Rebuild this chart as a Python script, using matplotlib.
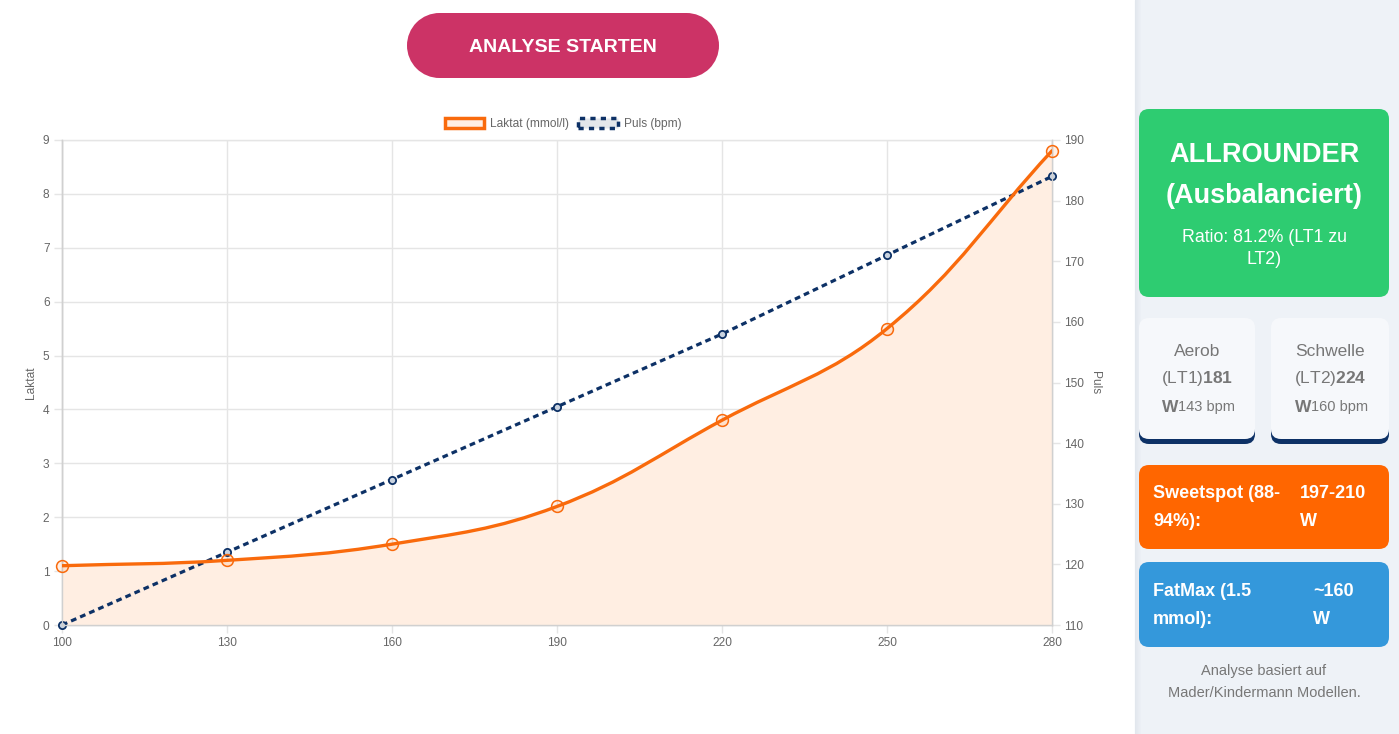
import numpy as np
import matplotlib
matplotlib.use("Agg")
import matplotlib.pyplot as plt
from matplotlib.path import Path
from matplotlib.patches import PathPatch, FancyBboxPatch, Rectangle, Patch, Circle

plt.rcParams['font.family'] = ['Liberation Sans', 'DejaVu Sans']
plt.rcParams['mathtext.fontset'] = 'custom'
plt.rcParams['mathtext.rm'] = 'Liberation Sans'
plt.rcParams['mathtext.bf'] = 'Liberation Sans:bold'

# ---------------- data ----------------
watt = [100, 130, 160, 190, 220, 250, 280]
laktat = [1.1, 1.2, 1.5, 2.2, 3.8, 5.5, 8.8]
puls = [110, 122, 134, 146, 158, 171, 184]
laktat_ticks = list(range(0, 10))
puls_ticks = list(range(110, 191, 10))
legend_labels = ["Laktat (mmol/l)", "Puls (bpm)"]

W, H = 1399, 734
fig = plt.figure(figsize=(W / 100, H / 100), dpi=100)
fig.patch.set_facecolor("white")

# overlay axes in pixel coordinates for page elements
ov = fig.add_axes([0, 0, 1, 1], zorder=0)
ov.set_xlim(0, W)
ov.set_ylim(H, 0)
ov.axis("off")

# right side panel
ov.add_patch(Rectangle((1135, 0), W - 1135, H, color="#eef2f7", zorder=0))
for i in range(6):
    ov.add_patch(Rectangle((1135 + i, 0), 1, H, color="#d8dde5", alpha=0.5 - i * 0.08, lw=0, zorder=0.5))


def card(x0, y0, x1, y1, color, r=10, z=1):
    ov.add_patch(FancyBboxPatch((x0 + r, y0 + r), (x1 - x0) - 2 * r, (y1 - y0) - 2 * r,
                                boxstyle=f"round,pad={r}", fc=color, ec="none", zorder=z))


# pill button
btn_c = "#cc3366"
bx0, bx1, by0, by1 = 407, 719, 13, 78
br = (by1 - by0) / 2
ov.add_patch(Rectangle((bx0 + br, by0), bx1 - bx0 - 2 * br, by1 - by0, fc=btn_c, ec="none", zorder=1))
ov.add_patch(Circle((bx0 + br, by0 + br), br, fc=btn_c, ec="none", zorder=1))
ov.add_patch(Circle((bx1 - br, by0 + br), br, fc=btn_c, ec="none", zorder=1))
ov.text(563, 46, "ANALYSE STARTEN", color="white", fontsize=14, fontweight="bold",
        ha="center", va="center_baseline", zorder=2)

# green card
card(1139, 109, 1389, 297, "#2ecc71")
ov.text(1264, 155, "ALLROUNDER", color="white", fontsize=19.5, fontweight="bold", ha="center", va="center", zorder=2)
ov.text(1264, 196, "(Ausbalanciert)", color="white", fontsize=19.5, fontweight="bold", ha="center", va="center", zorder=2)
ov.text(1264, 237, "Ratio: 81.2% (LT1 zu", color="white", fontsize=12.8, ha="center", va="center", zorder=2)
ov.text(1264, 259, "LT2)", color="white", fontsize=12.8, ha="center", va="center", zorder=2)

# small cards with navy bottom border
gray = "#777777"
for x0, x1, t1, t2a, t2b, t3b in [(1139, 1255, "Aerob", "(LT1)", "181", "143 bpm"),
                                   (1271, 1389, "Schwelle", "(LT2)", "224", "160 bpm")]:
    card(x0, 400, x1, 444, "#0d3166")
    card(x0, 318, x1, 439, "#f6f8fb", z=1.5)
    cx = (x0 + x1) / 2
    ov.text(cx, 351, t1, color=gray, fontsize=12.5, ha="center", va="center", zorder=2)
    ov.text(cx, 379, t2a + r"$\mathbf{" + t2b + "}$", color=gray, fontsize=12.5,
            ha="center", va="center", zorder=2)
    ov.text(cx - 19, 406, "W", color=gray, fontsize=12.5, fontweight="bold",
            ha="right", va="center_baseline", zorder=2)
    ov.text(cx - 19, 406, t3b, color=gray, fontsize=10.5,
            ha="left", va="center_baseline", zorder=2)

# orange card
card(1139, 465, 1389, 549, "#ff6600")
fs = 13
ov.text(1153, 493, "Sweetspot (88-", color="white", fontsize=fs, fontweight="bold", ha="left", va="center", zorder=2)
ov.text(1153, 521, "94%):", color="white", fontsize=fs, fontweight="bold", ha="left", va="center", zorder=2)
ov.text(1300, 493, "197-210", color="white", fontsize=fs, fontweight="bold", ha="left", va="center", zorder=2)
ov.text(1300, 521, "W", color="white", fontsize=fs, fontweight="bold", ha="left", va="center", zorder=2)

# blue card
card(1139, 562, 1389, 647, "#3498db")
ov.text(1153, 591, "FatMax (1.5", color="white", fontsize=fs, fontweight="bold", ha="left", va="center", zorder=2)
ov.text(1153, 619, "mmol):", color="white", fontsize=fs, fontweight="bold", ha="left", va="center", zorder=2)
ov.text(1313, 591, "~160", color="white", fontsize=fs, fontweight="bold", ha="left", va="center", zorder=2)
ov.text(1313, 619, "W", color="white", fontsize=fs, fontweight="bold", ha="left", va="center", zorder=2)

ov.text(1264, 671, "Analyse basiert auf", color=gray, fontsize=10.5, ha="center", va="center", zorder=2)
ov.text(1264, 693, "Mader/Kindermann Modellen.", color=gray, fontsize=10.5, ha="center", va="center", zorder=2)

# ---------------- chart ----------------
L, R, T, B = 62, 1052, 140, 625
ax = fig.add_axes([L / W, 1 - B / H, (R - L) / W, (B - T) / H], zorder=2)
ax2 = ax.twinx()
ax2.set_zorder(3)
ax2.patch.set_visible(False)

ax.set_xlim(100, 280)
ax.set_ylim(0, 9)
ax2.set_ylim(110, 190)
ax.set_xticks(watt)
ax.set_yticks(laktat_ticks)
ax2.set_yticks(puls_ticks)

grid_c = "#e5e5e5"
ax.grid(True, color=grid_c, lw=1)
ax.set_axisbelow(True)
for a in (ax, ax2):
    for s in a.spines.values():
        s.set_color("#d0d0d0")
        s.set_linewidth(1)
    a.tick_params(colors="#666666", labelsize=8.6, length=6, width=1, pad=3)
    a.tick_params(axis="both", color=grid_c)
ax.spines["top"].set_color(grid_c)
ax2.spines["top"].set_visible(False)
ax.set_ylabel("Laktat", color="#666666", fontsize=8.6, labelpad=4)
ax2.set_ylabel("Puls", color="#666666", fontsize=8.6, rotation=-90, labelpad=12)

# Chart.js-like bezier (tension 0.4) for the Laktat curve, computed in pixel space
sx = (R - L) / 180.0
sy = (B - T) / 9.0
px = np.array([(w - 100) * sx for w in watt])
py = np.array([v * sy for v in laktat])
t = 0.4
n = len(px)
cp_prev = []
cp_next = []
for i in range(n):
    p0 = np.array([px[max(i - 1, 0)], py[max(i - 1, 0)]])
    p1 = np.array([px[i], py[i]])
    p2 = np.array([px[min(i + 1, n - 1)], py[min(i + 1, n - 1)]])
    d01 = np.hypot(*(p1 - p0))
    d12 = np.hypot(*(p2 - p1))
    s01 = d01 / (d01 + d12) if (d01 + d12) else 0
    s12 = d12 / (d01 + d12) if (d01 + d12) else 0
    cp_prev.append(p1 - t * s01 * (p2 - p0))
    cp_next.append(p1 + t * s12 * (p2 - p0))


def to_data(p):
    return (p[0] / sx + 100, p[1] / sy)


verts = [(watt[0], laktat[0])]
codes = [Path.MOVETO]
for i in range(n - 1):
    verts += [to_data(cp_next[i]), to_data(cp_prev[i + 1]), (watt[i + 1], laktat[i + 1])]
    codes += [Path.CURVE4] * 3
line_path = Path(verts, codes)
fill_path = Path(verts + [(watt[-1], 0), (watt[0], 0), (watt[0], laktat[0])],
                 codes + [Path.LINETO, Path.LINETO, Path.CLOSEPOLY])

orange = "#f96a0c"
navy = "#0d3166"
ax2.add_patch(PathPatch(fill_path, fc="#ffeee2", ec="none", transform=ax.transData, zorder=1))
ax2.plot(watt, puls, color=navy, lw=2.3, ls=(0, (1.8, 1.3)), zorder=2, clip_on=False,
         marker="o", ms=5.2, mfc="#c9d3e0", mec=navy, mew=1.3)
ax2.add_patch(PathPatch(line_path, fc="none", ec=orange, lw=2.4, transform=ax.transData, zorder=3,
                        capstyle="round", joinstyle="round"))
ax2.plot(watt, laktat, ls="none", marker="o", ms=8.5, mfc=(1, 0.4, 0, 0.1), mec=orange, mew=1.1,
         transform=ax.transData, zorder=4, clip_on=False)
ax2.set_ylim(110, 190)

# legend
handles = [Patch(fc="#ffeee2", ec=orange, lw=2.5),
           Patch(fc="#e3e6ea", ec=navy, lw=2.5, ls=(0, (1.5, 1.5)))]
fig.legend(handles, legend_labels, loc="center", bbox_to_anchor=(563 / W, 1 - 124 / H), ncol=2,
           frameon=False, fontsize=8.6, handlelength=3.3, handleheight=0.9, handletextpad=0.5,
           columnspacing=0.8, labelcolor="#666666")

fig.savefig("out.png", dpi=100)
